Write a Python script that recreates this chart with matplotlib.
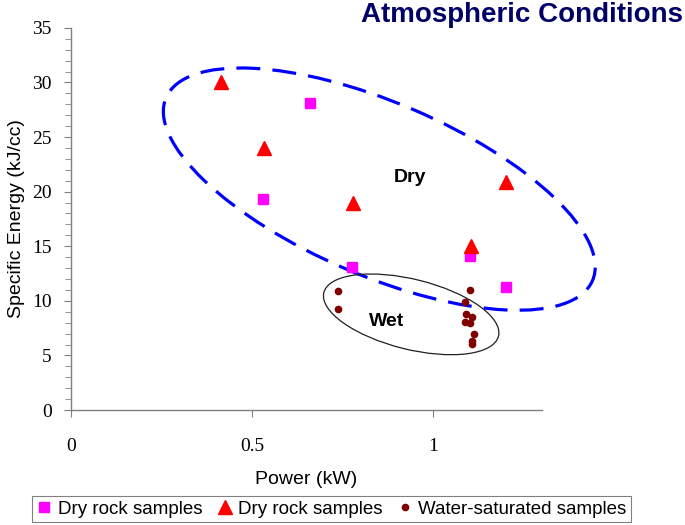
import numpy as np
import matplotlib
matplotlib.use("Agg")
import matplotlib.pyplot as plt
from matplotlib.patches import Ellipse
from matplotlib.transforms import ScaledTranslation
from matplotlib.ticker import MultipleLocator

# dry samples (squares)
dry_sq_x = [0.66, 0.531, 0.776, 1.102, 1.20]
dry_sq_y = [28.1, 19.3, 13.1, 14.1, 11.25]

# dry samples (triangles)
dry_tri_x = [0.413, 0.532, 0.778, 1.20, 1.104]
dry_tri_y = [30.0, 24.0, 19.0, 20.9, 15.0]

# water-saturated samples
wet_x = [0.736, 0.736, 1.100, 1.088, 1.091, 1.108, 1.087, 1.100, 1.113, 1.108, 1.108]
wet_y = [10.9, 9.24, 11.0, 9.9, 8.8, 8.56, 8.05, 7.95, 7.0, 6.33, 6.03]

x_ticks = [0, 0.5, 1]
x_ticklabels = ["0", "0.5", "1"]

fig = plt.figure(figsize=(6.85, 5.25), dpi=100)
ax = fig.add_axes([0.1036, 0.219, 0.6876, 0.728])

ax.plot(dry_sq_x, dry_sq_y, ls="none", marker="s", ms=7, color="#FF00FF",
        mec="#FF00FF", label="Dry rock samples", zorder=3)
ax.plot(dry_tri_x, dry_tri_y, ls="none", marker="^", ms=9.5, color="#FF0000",
        mec="#FF0000", label="Dry rock samples", zorder=3)
ax.plot(wet_x, wet_y, ls="none", marker="o", ms=4.5, color="#800000",
        mec="#800000", label="Water-saturated samples", zorder=3)

# group outlines, sized in inches around a data centre
dry_ell = Ellipse((0, 0), 4.64, 1.73, angle=-23.2, fill=False, ec="#0000FF",
                  lw=2.3, ls=(0, (7.5, 3.8)), clip_on=False,
                  transform=fig.dpi_scale_trans + ScaledTranslation(0.851, 20.23, ax.transData))
wet_ell = Ellipse((0, 0), 1.80, 0.70, angle=-14, fill=False, ec="#202020",
                  lw=0.9, clip_on=False,
                  transform=fig.dpi_scale_trans + ScaledTranslation(0.939, 8.76, ax.transData))
ax.add_patch(dry_ell)
ax.add_patch(wet_ell)

ax.text(0.936, 21.3, "Dry", ha="center", va="center", fontsize=14,
        fontweight="bold", family="Liberation Sans")
ax.text(0.870, 8.07, "Wet", ha="center", va="center", fontsize=14,
        fontweight="bold", family="Liberation Sans")

ax.set_xlim(0, 1.30)
ax.set_ylim(0, 35)
ax.spines["top"].set_visible(False)
ax.spines["right"].set_visible(False)
for s in ("left", "bottom"):
    ax.spines[s].set_color("#808080")
    ax.spines[s].set_linewidth(1.0)

ax.set_xticks(x_ticks)
ax.set_xticklabels(x_ticklabels)
ax.yaxis.set_major_locator(MultipleLocator(5))
ax.yaxis.set_minor_locator(MultipleLocator(1))
ax.tick_params(axis="x", direction="out", length=5, color="#808080", pad=15,
               labelsize=14, labelfontfamily="Liberation Serif")
ax.tick_params(axis="y", which="major", direction="out", length=5, color="#808080",
               pad=9, labelsize=14, labelfontfamily="Liberation Serif")
ax.tick_params(axis="y", which="minor", direction="out", length=4, color="#808080")

ax.set_xlabel("Power (kW)", fontsize=14, family="Liberation Sans", labelpad=12)
ax.set_ylabel("Specific Energy (kJ/cc)", fontsize=14, family="Liberation Sans", labelpad=5)

fig.text(0.997, 0.972, "Atmospheric Conditions", ha="right", va="center",
         fontsize=20, fontweight="bold", color="#000066", family="Liberation Sans")

leg = fig.legend(loc="center", bbox_to_anchor=(0.484, 0.0305), ncol=3,
                 prop={"family": "Liberation Sans", "size": 13.5},
                 handlelength=0.8, handletextpad=0.3, columnspacing=0.8,
                 borderpad=0.25, fancybox=False, edgecolor="#808080",
                 framealpha=1, borderaxespad=0)
leg.get_frame().set_linewidth(0.8)

fig.savefig("out.png", dpi=100)
